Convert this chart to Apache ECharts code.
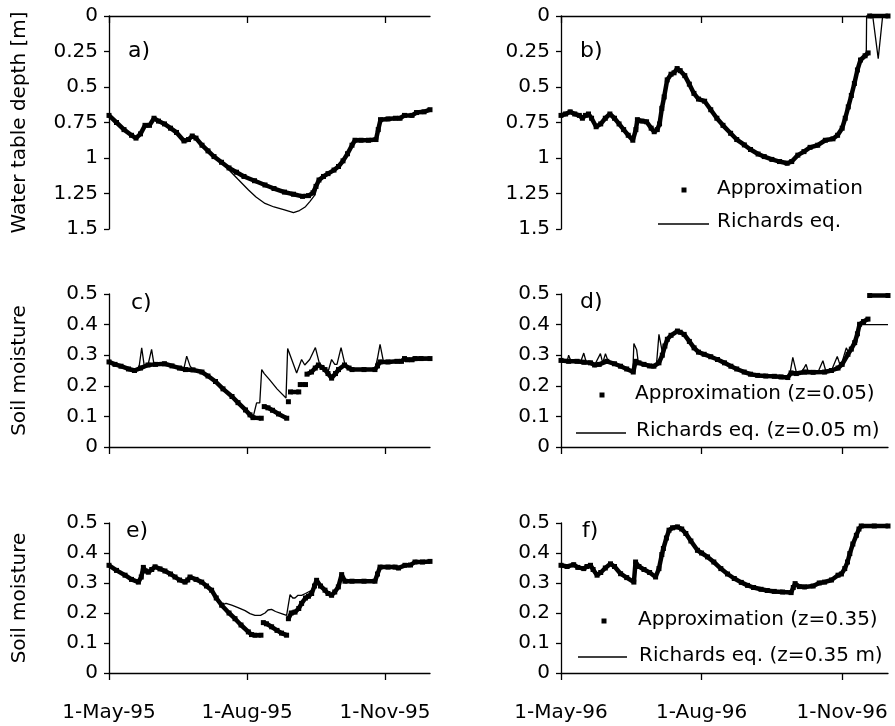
<!DOCTYPE html>
<html>
<head>
<meta charset="utf-8">
<script src="https://cdn.jsdelivr.net/npm/echarts@6/dist/echarts.min.js"></script>
<style>
  html, body { margin: 0; padding: 0; background: #fff; }
  #chart { width: 895px; height: 726px; }
</style>
</head>
<body>
<div id="chart"></div>
<script>
// x is days since 1 May; ticks on 1-May, 1-Aug, 1-Nov
const tickDays = [0, 92, 184]
const labels95 = ['1-May-95', '1-Aug-95', '1-Nov-95']
const labels96 = ['1-May-96', '1-Aug-96', '1-Nov-96']

// a) water table depth 1995 [m]
const aApprox = [[0,0.70],[5,0.75],[10,0.80],[15,0.84],[18,0.86],[21,0.83],[24,0.77],[27,0.77],[30,0.72],[33,0.74],[37,0.76],[41,0.79],[45,0.82],[50,0.88],[53,0.87],[55.5,0.845],[58,0.86],[62,0.91],[66,0.95],[70,0.99],[75,1.03],[80,1.07],[85,1.10],[90,1.13],[97,1.16],[104,1.19],[110,1.215],[117,1.24],[123,1.255],[129,1.27],[133,1.265],[136,1.245],[138,1.20],[140,1.155],[143,1.13],[146,1.11],[150,1.085],[153,1.06],[156,1.02],[159,0.97],[162,0.91],[164,0.875],[168,0.875],[173,0.875],[178,0.87],[179.5,0.80],[181,0.73],[186,0.725],[191,0.72],[194,0.72],[197,0.70],[202,0.70],[205,0.68],[210,0.675],[214,0.66]]
const aRichards = [[0,0.70],[5,0.75],[10,0.80],[15,0.84],[18,0.86],[21,0.83],[24,0.77],[27,0.77],[30,0.72],[33,0.74],[37,0.76],[41,0.79],[45,0.82],[50,0.88],[53,0.87],[55.5,0.845],[58,0.86],[62,0.91],[66,0.95],[70,0.99],[76,1.04],[80,1.085],[86,1.15],[93,1.225],[98,1.275],[104,1.32],[110,1.345],[117,1.366],[123,1.385],[127,1.37],[131,1.343],[134,1.305],[137.3,1.26],[140,1.155],[143,1.13],[146,1.11],[150,1.085],[153,1.06],[156,1.02],[159,0.97],[162,0.91],[164,0.875],[178,0.87],[179.5,0.80],[181,0.73],[191,0.72],[194,0.72],[197,0.70],[202,0.70],[205,0.68],[210,0.675],[214,0.66]]

// b) water table depth 1996 [m]
const bApprox = [[0,0.70],[3,0.69],[6,0.675],[9,0.69],[12,0.70],[14,0.72],[16,0.70],[18,0.69],[20,0.72],[23,0.78],[26,0.76],[29,0.72],[32,0.69],[35,0.72],[38,0.76],[41,0.80],[44,0.84],[47,0.875],[49,0.80],[50,0.73],[53,0.74],[56,0.745],[59,0.79],[61,0.815],[63,0.80],[64.5,0.76],[66,0.65],[67.5,0.57],[69.5,0.45],[72,0.41],[74,0.40],[76,0.37],[78,0.385],[81,0.42],[84,0.48],[87,0.545],[90,0.585],[94,0.60],[98,0.66],[102,0.72],[106,0.77],[111,0.826],[115,0.87],[120,0.908],[124,0.94],[129,0.972],[133,0.99],[138,1.01],[143,1.025],[148,1.037],[151,1.025],[155,0.98],[159,0.955],[163,0.925],[168,0.91],[173,0.875],[178,0.865],[181,0.84],[184,0.79],[186,0.72],[188,0.64],[190,0.56],[192,0.475],[194,0.38],[196,0.31],[199,0.28],[201,0.26],[201.5,null],[202,0],[214,0]]
const bRichards = [[0,0.70],[3,0.69],[6,0.675],[9,0.69],[12,0.70],[14,0.72],[16,0.70],[18,0.69],[20,0.72],[23,0.78],[26,0.76],[29,0.72],[32,0.69],[35,0.72],[38,0.76],[41,0.80],[44,0.84],[47,0.875],[49,0.80],[50,0.73],[53,0.74],[56,0.745],[59,0.79],[61,0.815],[63,0.80],[64.5,0.76],[66,0.65],[67.5,0.57],[69.5,0.45],[72,0.41],[74,0.40],[76,0.37],[78,0.385],[81,0.42],[84,0.48],[87,0.545],[90,0.585],[94,0.60],[98,0.66],[102,0.72],[106,0.77],[111,0.826],[115,0.87],[120,0.908],[124,0.94],[129,0.972],[133,0.99],[138,1.01],[143,1.025],[148,1.037],[151,1.025],[155,0.98],[159,0.955],[163,0.925],[168,0.91],[173,0.875],[178,0.865],[181,0.84],[184,0.79],[186,0.72],[188,0.64],[190,0.56],[192,0.475],[194,0.38],[196,0.31],[198,0.28],[199.8,0.26],[200,0],[204,0],[207.6,0.30],[210.5,0],[214,0]]

// c) soil moisture 1995, z=0.05 m
const cApprox = [[0,0.278],[4,0.27],[8,0.264],[13,0.255],[17,0.25],[21,0.258],[26,0.268],[31,0.27],[37,0.272],[42,0.265],[47,0.258],[51,0.253],[56,0.252],[62,0.245],[66,0.232],[71,0.214],[76,0.19],[82,0.165],[86,0.145],[91,0.121],[94,0.105],[96,0.096],[101.5,0.094],[102.5,null],[103.5,0.132],[106,0.128],[109,0.12],[113,0.108],[118.5,0.094],[119,null],[119.6,0.148],[120.3,null],[121,0.18],[126.5,0.18],[127,null],[127.5,0.204],[131,0.204],[131.5,null],[132,0.238],[135,0.245],[137.5,0.258],[139.6,0.268],[142,0.26],[144,0.253],[146,0.24],[148.4,0.225],[151,0.24],[153,0.253],[157,0.268],[160,0.258],[162,0.253],[170,0.253],[177.3,0.253],[179,0.265],[180.7,0.278],[186,0.278],[192,0.28],[195,0.28],[197,0.289],[199,0.285],[202,0.285],[204,0.289],[208,0.289],[214,0.289]]
const cRichards = [[0,0.278],[8,0.264],[17,0.25],[20,0.26],[21.8,0.324],[23.5,0.265],[26,0.268],[28.4,0.319],[30,0.27],[37,0.272],[47,0.258],[50,0.258],[51.8,0.297],[54,0.265],[56,0.252],[62,0.245],[66,0.232],[71,0.214],[76,0.19],[82,0.165],[86,0.145],[91,0.121],[94,0.105],[96,0.096],[98.4,0.144],[100.5,0.144],[101.8,0.253],[103.5,0.24],[105.1,0.231],[107,0.22],[112,0.19],[118,0.16],[119.1,0.322],[121.8,0.286],[125.1,0.242],[128.4,0.286],[130.5,0.268],[133.8,0.286],[137.6,0.325],[140.4,0.27],[144,0.253],[146,0.245],[148.4,0.286],[150.5,0.27],[152,0.27],[154.7,0.325],[157.3,0.27],[160,0.26],[162,0.253],[177.3,0.253],[179,0.29],[180.7,0.335],[183,0.278],[192,0.28],[214,0.285]]

// d) soil moisture 1996, z=0.05 m
const dApprox = [[0,0.283],[5,0.28],[10.5,0.28],[15,0.277],[19.3,0.275],[22,0.268],[25,0.27],[30,0.28],[35,0.272],[39,0.264],[43,0.255],[47.3,0.245],[48.8,0.28],[51,0.275],[54.3,0.27],[58,0.265],[60.8,0.264],[64.1,0.275],[66.3,0.30],[68,0.33],[69.6,0.352],[72,0.365],[76.2,0.379],[78,0.375],[80.6,0.368],[84,0.345],[87.1,0.324],[90,0.31],[93.7,0.303],[98,0.295],[102.4,0.286],[107,0.275],[111.2,0.264],[115,0.255],[119.9,0.245],[124,0.238],[128.7,0.234],[134,0.232],[139.6,0.231],[144,0.229],[148.4,0.227],[150.6,0.242],[154,0.24],[159.4,0.245],[165,0.244],[172.5,0.245],[177,0.25],[181.3,0.258],[184,0.27],[187.8,0.303],[190,0.32],[192.2,0.341],[194,0.37],[195.4,0.401],[198,0.41],[200.9,0.418],[201.5,null],[202,0.495],[214,0.495]]
const dRichards = [[0,0.283],[4,0.28],[5,0.30],[6.5,0.28],[13,0.28],[14.9,0.307],[16.5,0.277],[22,0.268],[25.8,0.305],[27.3,0.275],[29.1,0.305],[31,0.278],[35,0.272],[39,0.264],[43,0.255],[47,0.245],[47.7,0.338],[49.5,0.318],[50.5,0.28],[54.3,0.27],[60.8,0.264],[62.5,0.27],[64.1,0.368],[66.3,0.31],[68,0.33],[69.6,0.352],[72,0.365],[76.2,0.379],[80.6,0.368],[84,0.345],[87.1,0.324],[93.7,0.303],[102.4,0.286],[111.2,0.264],[119.9,0.245],[128.7,0.234],[139.6,0.231],[148.4,0.227],[150,0.245],[151.7,0.293],[154,0.245],[157,0.242],[159,0.258],[160.4,0.27],[162,0.243],[168,0.243],[171.4,0.282],[173.5,0.245],[177,0.25],[180.8,0.296],[183,0.262],[186.7,0.324],[188.5,0.305],[192.2,0.352],[193.5,0.34],[195.4,0.40],[214,0.40]]

// e) soil moisture 1995, z=0.35 m
const eApprox = [[0,0.359],[5,0.342],[10.7,0.326],[15,0.312],[19.6,0.303],[21.5,0.32],[22.9,0.352],[24.5,0.34],[26.2,0.336],[28.5,0.345],[30.7,0.354],[34,0.347],[37.3,0.34],[41,0.33],[44,0.32],[47,0.31],[50.7,0.303],[52.5,0.31],[54,0.32],[58,0.312],[61.8,0.303],[65,0.29],[68.4,0.276],[71.5,0.25],[75.1,0.226],[80,0.2],[84,0.181],[88,0.16],[92.9,0.137],[95,0.128],[97.3,0.126],[101.3,0.126],[102,null],[102.9,0.168],[105,0.164],[108.4,0.154],[112,0.142],[115,0.133],[118.4,0.126],[119,null],[119.6,0.181],[121.5,0.2],[124,0.203],[126.5,0.215],[128.4,0.232],[131,0.25],[133,0.256],[135.1,0.265],[137,0.29],[138.4,0.309],[141,0.29],[144,0.276],[146,0.265],[148.4,0.259],[150.5,0.27],[152.9,0.287],[155.1,0.328],[157.3,0.306],[162,0.306],[170,0.306],[177.3,0.306],[179,0.33],[180.7,0.353],[186,0.353],[190.7,0.353],[193,0.35],[197.3,0.359],[201,0.36],[204,0.37],[209,0.37],[214,0.372]]
const eRichards = [[0,0.359],[5,0.342],[10.7,0.326],[15,0.312],[19.6,0.303],[21.5,0.32],[22.9,0.352],[24.5,0.34],[26.2,0.336],[28.5,0.345],[30.7,0.354],[34,0.347],[37.3,0.34],[41,0.33],[44,0.32],[47,0.31],[50.7,0.303],[52.5,0.31],[54,0.32],[58,0.312],[61.8,0.303],[65,0.29],[68.4,0.276],[71.5,0.25],[75.1,0.226],[78,0.232],[81.8,0.226],[86,0.218],[90.7,0.208],[94,0.198],[97.3,0.192],[101,0.192],[104,0.2],[106,0.21],[108.4,0.212],[111,0.205],[115,0.198],[118.4,0.192],[120.7,0.261],[122.5,0.25],[124,0.25],[126,0.259],[128.4,0.259],[131,0.265],[135.1,0.276],[137,0.29],[138.4,0.309],[141,0.29],[144,0.276],[146,0.265],[148.4,0.259],[150.5,0.27],[152.9,0.287],[155.1,0.328],[157.3,0.306],[177.3,0.306],[179,0.33],[180.7,0.353],[190.7,0.353],[193,0.35],[197.3,0.359],[201,0.36],[204,0.37],[209,0.37],[214,0.372]]

// f) soil moisture 1996, z=0.35 m
const fApprox = [[0,0.359],[4,0.355],[8.3,0.361],[11,0.352],[14.9,0.348],[17,0.355],[19.3,0.359],[21,0.345],[23.6,0.326],[26,0.335],[29,0.35],[32.4,0.364],[35,0.355],[39,0.331],[43,0.318],[47.7,0.303],[48.8,0.37],[51,0.355],[54.3,0.345],[58,0.335],[61.9,0.32],[64.1,0.348],[66,0.395],[67,0.415],[69,0.45],[70.7,0.476],[73,0.484],[76.2,0.487],[79,0.48],[81.7,0.465],[85,0.44],[89.3,0.409],[92,0.4],[95.9,0.387],[100,0.37],[104.6,0.348],[109,0.33],[113.4,0.315],[118,0.302],[122.1,0.292],[126,0.285],[130.9,0.279],[135,0.275],[139.6,0.272],[145,0.27],[150.6,0.268],[152,0.285],[153.2,0.298],[156,0.288],[159.4,0.287],[165,0.29],[169,0.3],[172.5,0.303],[177,0.31],[181.3,0.326],[183.5,0.33],[185.7,0.348],[187.5,0.37],[189,0.398],[191,0.43],[193.3,0.459],[195,0.48],[196.5,0.49],[205,0.49],[214,0.49]]
const fRichards = [[0,0.359],[4,0.355],[8.3,0.361],[11,0.352],[14.9,0.348],[17,0.355],[19.3,0.359],[21,0.345],[23.6,0.326],[26,0.335],[29,0.35],[32.4,0.364],[35,0.355],[39,0.331],[43,0.318],[47.7,0.303],[48.8,0.37],[51,0.355],[54.3,0.345],[58,0.335],[61.9,0.32],[64.1,0.348],[66,0.395],[67,0.415],[69,0.45],[70.7,0.476],[73,0.484],[76.2,0.487],[79,0.48],[81.7,0.465],[85,0.44],[89.3,0.409],[92,0.4],[95.9,0.387],[100,0.37],[104.6,0.348],[109,0.33],[113.4,0.315],[118,0.302],[122.1,0.292],[126,0.285],[130.9,0.279],[135,0.275],[139.6,0.272],[145,0.27],[150.6,0.268],[152,0.285],[153.2,0.298],[156,0.288],[159.4,0.287],[165,0.29],[169,0.3],[172.5,0.303],[177,0.31],[181.3,0.326],[183.5,0.33],[185.7,0.348],[187.5,0.37],[189,0.398],[191,0.43],[193.3,0.459],[195,0.48],[196.5,0.49],[214,0.49]]

const FONT = 'DejaVu Sans'
const BLACK = '#000'

const panels = [
  { grid: { left: 109, top: 16, width: 321, height: 213 }, depth: true, labels: null, yName: 'Water table depth [m]' },
  { grid: { left: 561, top: 16, width: 327, height: 213 }, depth: true, labels: null, yName: '' },
  { grid: { left: 109, top: 294, width: 321, height: 153 }, depth: false, labels: null, yName: 'Soil moisture' },
  { grid: { left: 561, top: 294, width: 327, height: 153 }, depth: false, labels: null, yName: '' },
  { grid: { left: 109, top: 523, width: 321, height: 150 }, depth: false, labels: labels95, yName: 'Soil moisture' },
  { grid: { left: 561, top: 523, width: 327, height: 150 }, depth: false, labels: labels96, yName: '' }
]

const approxData = [aApprox, bApprox, cApprox, dApprox, eApprox, fApprox]
const richardsData = [aRichards, bRichards, cRichards, dRichards, eRichards, fRichards]

const xAxes = panels.map((p, i) => ({
  type: 'value',
  gridIndex: i,
  min: 0,
  max: 214,
  position: p.depth ? 'top' : 'bottom',
  axisLine: { onZero: false, lineStyle: { color: BLACK, width: 1.3 } },
  axisTick: { show: true, customValues: tickDays, inside: p.depth, length: 7, lineStyle: { color: BLACK, width: 1.3 } },
  axisLabel: {
    show: !!p.labels,
    customValues: tickDays,
    margin: 30,
    color: BLACK,
    fontFamily: FONT,
    fontSize: 20,
    formatter: (v) => p.labels ? (p.labels[tickDays.indexOf(v)] || '') : ''
  },
  splitLine: { show: false }
}))

const yAxes = panels.map((p, i) => ({
  type: 'value',
  gridIndex: i,
  min: 0,
  max: p.depth ? 1.5 : 0.5,
  interval: p.depth ? 0.25 : 0.1,
  inverse: p.depth,
  name: p.yName,
  nameLocation: 'middle',
  nameRotate: 90,
  nameGap: 79,
  nameTextStyle: { color: BLACK, fontFamily: FONT, fontSize: 20 },
  axisLine: { show: true, lineStyle: { color: BLACK, width: 1.3 } },
  axisTick: { show: true, length: 5, lineStyle: { color: BLACK, width: 1.3 } },
  axisLabel: { margin: 11, color: BLACK, fontFamily: FONT, fontSize: 20 },
  splitLine: { show: false }
}))

const series = []
panels.forEach((p, i) => {
  series.push({
    name: 'Approximation ' + 'abcdef'[i],
    type: 'line',
    xAxisIndex: i,
    yAxisIndex: i,
    data: approxData[i],
    symbol: 'rect',
    symbolSize: 5,
    showSymbol: true,
    connectNulls: false,
    clip: false,
    lineStyle: { color: BLACK, width: 4.5 },
    itemStyle: { color: BLACK },
    z: 2
  })
  series.push({
    name: 'Richards eq. ' + 'abcdef'[i],
    type: 'line',
    xAxisIndex: i,
    yAxisIndex: i,
    data: richardsData[i],
    showSymbol: false,
    clip: false,
    lineStyle: { color: BLACK, width: 1.3 },
    z: 3
  })
})

// panel letters and legends
const txt = (x, y, text, size) => ({
  type: 'text', left: x, top: y,
  style: { text: text, fill: BLACK, font: size + 'px "' + FONT + '"', textVerticalAlign: 'middle' }
})
const legendRect = (cx, cy) => ({
  type: 'rect', shape: { x: cx - 2.5, y: cy - 2.5, width: 5, height: 5 }, style: { fill: BLACK }
})
const legendLine = (x1, x2, y) => ({
  type: 'line', shape: { x1: x1, y1: y, x2: x2, y2: y }, style: { stroke: BLACK, lineWidth: 1.3 }
})

const graphic = [
  txt(128, 40, 'a)', 22), txt(580, 40, 'b)', 22),
  txt(131, 292, 'c)', 22), txt(580, 291, 'd)', 22),
  txt(126, 520, 'e)', 22), txt(582, 520, 'f)', 22),
  legendRect(684, 190), { type: 'text', left: 717, top: 179, style: { text: 'Approximation', fill: BLACK, font: '20px "' + FONT + '"' } },
  legendLine(658, 709, 224), { type: 'text', left: 717, top: 212, style: { text: 'Richards eq.', fill: BLACK, font: '20px "' + FONT + '"' } },
  legendRect(602, 395), { type: 'text', left: 635, top: 384, style: { text: 'Approximation (z=0.05)', fill: BLACK, font: '20px "' + FONT + '"' } },
  legendLine(576, 626, 433), { type: 'text', left: 636, top: 421, style: { text: 'Richards eq. (z=0.05 m)', fill: BLACK, font: '20px "' + FONT + '"' } },
  legendRect(604, 621), { type: 'text', left: 638, top: 610, style: { text: 'Approximation (z=0.35)', fill: BLACK, font: '20px "' + FONT + '"' } },
  legendLine(578, 627, 657), { type: 'text', left: 639, top: 646, style: { text: 'Richards eq. (z=0.35 m)', fill: BLACK, font: '20px "' + FONT + '"' } }
]

const chart = echarts.init(document.getElementById('chart'))
chart.setOption({
  animation: false,
  backgroundColor: '#fff',
  grid: panels.map(p => p.grid),
  xAxis: xAxes,
  yAxis: yAxes,
  series: series,
  graphic: graphic
})
</script>
</body>
</html>
